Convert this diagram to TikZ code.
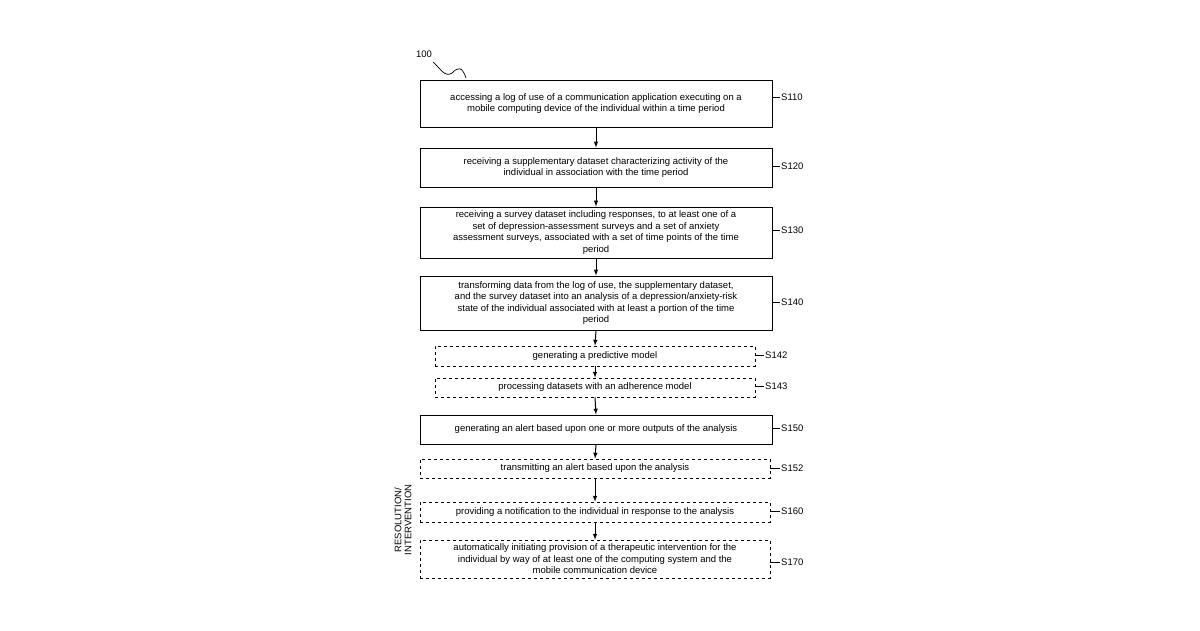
\documentclass[tikz,border=0pt]{standalone}
\usepackage{fontspec}
\setmainfont{Liberation Sans}
\begin{document}
\begin{tikzpicture}[x=1pt,y=-1pt,
 box/.style={draw,line width=1pt,align=center,font=\fontsize{9.5}{11.5}\selectfont,inner sep=0pt},
 dbox/.style={box,dashed,line width=0.8pt},
 lab/.style={font=\fontsize{9.5}{11}\selectfont,anchor=west,inner sep=1pt},
 arr/.style={-latex,line width=1pt}]
\useasboundingbox (0,0) rectangle (1200,630);
\node[box,minimum width=352,minimum height=47] (s110) at (596,103.5) {accessing a log of use of a communication application executing on a\\mobile computing device of the individual within a time period};
\node[box,minimum width=352,minimum height=39] (s120) at (596,167.5) {receiving a supplementary dataset characterizing activity of the\\individual in association with the time period};
\node[box,minimum width=352,minimum height=51] (s130) at (596,232.5) {receiving a survey dataset including responses, to at least one of a\\set of depression-assessment surveys and a set of anxiety\\assessment surveys, associated with a set of time points of the time\\period};
\node[box,minimum width=352,minimum height=54] (s140) at (596,303) {transforming data from the log of use, the supplementary dataset,\\and the survey dataset into an analysis of a depression/anxiety-risk\\state of the individual associated with at least a portion of the time\\period};
\node[dbox,minimum width=320,minimum height=20] (s142) at (595,356) {generating a predictive model};
\node[dbox,minimum width=320,minimum height=19] (s143) at (595,387.5) {processing datasets with an adherence model};
\node[box,minimum width=352,minimum height=29] (s150) at (596,429.5) {generating an alert based upon one or more outputs of the analysis};
\node[dbox,minimum width=350,minimum height=19] (s152) at (595,468.5) {transmitting an alert based upon the analysis};
\node[dbox,minimum width=350,minimum height=20] (s160) at (595,512) {providing a notification to the individual in response to the analysis};
\node[dbox,minimum width=350,minimum height=38] (s170) at (595,559) {automatically initiating provision of a therapeutic intervention for the\\individual by way of at least one of the computing system and the\\mobile communication device};
\foreach \n/\t/\y in {s110/S110/97,s120/S120/166,s130/S130/230,s140/S140/302,s150/S150/428,s152/S152/468,s160/S160/511,s170/S170/562}{
 \node[lab] (l\n) at (780,\y) {\t};
 \draw[line width=0.8pt] (\n.east |- l\n.west) -- (l\n.west);}
\foreach \n/\t/\y in {s142/S142/355,s143/S143/386}{
 \node[lab] (l\n) at (764,\y) {\t};
 \draw[line width=0.8pt] (\n.east |- l\n.west) -- (l\n.west);}
\foreach \a/\b in {s110/s120,s120/s130,s130/s140,s140/s142,s142/s143,s143/s150,s150/s152,s152/s160,s160/s170}
 \draw[arr] (\a.south) -- (\b.north);
\node[font=\fontsize{9.5}{10}\selectfont,rotate=90,align=center] (ri) at (403,520) {RESOLUTION/\\INTERVENTION};
\node[font=\fontsize{9.5}{11}\selectfont] (n100) at (424,54) {100};
\coordinate (w0) at (433,62);
\coordinate (w1) at (466,78);
\draw[line width=0.7pt] (w0) .. controls (440,68) and (445,78) .. (452,73) .. controls (458,67) and (462,66) .. (w1);
\end{tikzpicture}
\end{document}
